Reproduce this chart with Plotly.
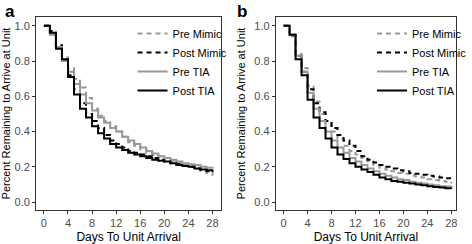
import plotly.graph_objects as go

days = list(range(0, 29))

# Panel a
a_pre_mimic = [1.0, 0.95, 0.89, 0.82, 0.76, 0.70, 0.65, 0.59, 0.53, 0.49, 0.46, 0.43, 0.40, 0.37, 0.34, 0.32, 0.30, 0.28, 0.27, 0.26, 0.25, 0.235, 0.22, 0.21, 0.20, 0.19, 0.18, 0.165, 0.15]
a_post_mimic = [1.0, 0.97, 0.89, 0.80, 0.72, 0.64, 0.56, 0.50, 0.46, 0.42, 0.38, 0.35, 0.33, 0.31, 0.29, 0.28, 0.27, 0.26, 0.25, 0.24, 0.23, 0.22, 0.215, 0.205, 0.20, 0.19, 0.18, 0.175, 0.17]
a_pre_tia = [1.0, 0.95, 0.88, 0.80, 0.74, 0.67, 0.61, 0.56, 0.52, 0.48, 0.45, 0.42, 0.40, 0.37, 0.35, 0.33, 0.31, 0.29, 0.275, 0.26, 0.25, 0.24, 0.23, 0.22, 0.215, 0.21, 0.20, 0.195, 0.19]
a_post_tia = [1.0, 0.96, 0.87, 0.81, 0.71, 0.61, 0.53, 0.48, 0.43, 0.39, 0.36, 0.33, 0.31, 0.295, 0.28, 0.27, 0.26, 0.25, 0.24, 0.235, 0.23, 0.22, 0.21, 0.205, 0.20, 0.19, 0.185, 0.18, 0.17]

# Panel b
b_pre_mimic = [1.0, 0.94, 0.84, 0.76, 0.66, 0.57, 0.50, 0.45, 0.40, 0.36, 0.32, 0.29, 0.27, 0.25, 0.23, 0.21, 0.195, 0.185, 0.175, 0.165, 0.16, 0.15, 0.145, 0.14, 0.13, 0.125, 0.12, 0.115, 0.105]
b_post_mimic = [1.0, 0.95, 0.83, 0.74, 0.64, 0.56, 0.51, 0.46, 0.42, 0.38, 0.35, 0.32, 0.29, 0.26, 0.24, 0.225, 0.21, 0.20, 0.19, 0.18, 0.175, 0.165, 0.16, 0.155, 0.15, 0.145, 0.14, 0.135, 0.125]
b_pre_tia = [1.0, 0.95, 0.83, 0.74, 0.62, 0.53, 0.46, 0.40, 0.35, 0.31, 0.28, 0.25, 0.23, 0.21, 0.19, 0.175, 0.16, 0.15, 0.14, 0.13, 0.125, 0.115, 0.11, 0.105, 0.10, 0.095, 0.09, 0.088, 0.085]
b_post_tia = [1.0, 0.95, 0.81, 0.72, 0.58, 0.48, 0.42, 0.36, 0.31, 0.27, 0.245, 0.22, 0.20, 0.185, 0.17, 0.155, 0.14, 0.13, 0.12, 0.115, 0.11, 0.105, 0.10, 0.095, 0.09, 0.085, 0.082, 0.078, 0.075]

series_names = ["Pre Mimic", "Post Mimic", "Pre TIA", "Post TIA"]
colors = ["#999999", "#000000", "#999999", "#000000"]
dashes = ["5px,4px", "5px,4px", "solid", "solid"]

x_ticks = [0, 4, 8, 12, 16, 20, 24, 28]
y_ticks = [0.0, 0.2, 0.4, 0.6, 0.8, 1.0]
y_ticklabels = ["0.0", "0.2", "0.4", "0.6", "0.8", "1.0"]

W, H = 472, 244


def px(xp):
    return xp / W


def py(yp):
    return 1 - yp / H


fig = go.Figure()
panels = [
    ([a_pre_mimic, a_post_mimic, a_pre_tia, a_post_tia], "x", "y", "legend"),
    ([b_pre_mimic, b_post_mimic, b_pre_tia, b_post_tia], "x2", "y2", "legend2"),
]
for data, xa, ya, lg in panels:
    for name, vals, c, d in zip(series_names, data, colors, dashes):
        fig.add_trace(go.Scatter(
            x=days, y=vals, mode="lines", name=name,
            line=dict(color=c, dash=d, width=2, shape="hv"),
            xaxis=xa, yaxis=ya, legend=lg,
        ))

font_family = "Liberation Sans, Arial, sans-serif"
axis_common = dict(
    showline=True, mirror=True, linecolor="#333333", linewidth=1,
    ticks="outside", ticklen=3, tickcolor="#333333", tickwidth=1,
    showgrid=False, zeroline=False,
    tickfont=dict(family=font_family, size=11, color="#4d4d4d"),
    automargin=False,
)
ytop, ybot = py(17), py(210)
xtitle = dict(text="Days To Unit Arrival", font=dict(size=12), standoff=9)
ytitle = dict(text="Percent Remaining to Arrive at Unit", font=dict(size=11), standoff=6)
legend_common = dict(xanchor="left", yanchor="top", bgcolor="rgba(0,0,0,0)",
                     font=dict(size=11, family=font_family), tracegroupgap=0, itemwidth=30)

fig.update_layout(
    width=W, height=H,
    margin=dict(l=0, r=0, t=0, b=0),
    paper_bgcolor="white", plot_bgcolor="white",
    font=dict(family=font_family, color="black"),
    xaxis=dict(domain=[px(37), px(227)], range=[-1.3, 29.45],
               tickvals=x_ticks, title=xtitle, anchor="y", **axis_common),
    yaxis=dict(domain=[ybot, ytop], range=[-0.045, 1.05],
               tickvals=y_ticks, ticktext=y_ticklabels, title=ytitle,
               anchor="x", **axis_common),
    xaxis2=dict(domain=[px(283), px(468)], range=[-1.3, 28.8],
                tickvals=x_ticks, title=xtitle, anchor="y2", **axis_common),
    yaxis2=dict(domain=[ybot, ytop], range=[-0.045, 1.05],
                tickvals=y_ticks, ticktext=y_ticklabels, title=ytitle,
                anchor="x2", **axis_common),
    legend=dict(x=px(136), y=py(19), **legend_common),
    legend2=dict(x=px(382), y=py(19), **legend_common),
    showlegend=True,
    annotations=[
        dict(text="<b>a</b>", x=px(3), y=1, xref="paper", yref="paper",
             xanchor="left", yanchor="top", showarrow=False,
             font=dict(size=17, family=font_family, color="black")),
        dict(text="<b>b</b>", x=px(241), y=1, xref="paper", yref="paper",
             xanchor="left", yanchor="top", showarrow=False,
             font=dict(size=17, family=font_family, color="black")),
    ],
)

# remove the browser's default 8px body margin so the figure fills the window
fig.write_html("out.html", config={"displayModeBar": False},
               post_script="document.body.style.margin='0px';")
